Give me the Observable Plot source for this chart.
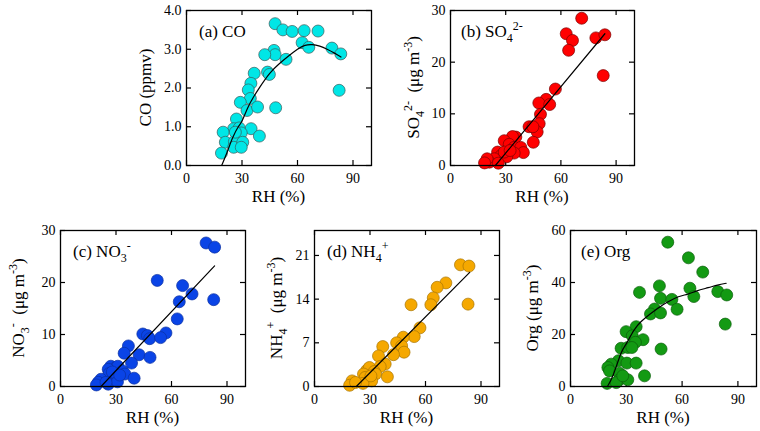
<!DOCTYPE html>
<html><head><meta charset="utf-8">
<script src="https://cdn.jsdelivr.net/npm/d3@7"></script>
<script src="https://cdn.jsdelivr.net/npm/@observablehq/plot@0.6"></script>
<style>
body{margin:0;background:#fff;}
#wrap{position:relative;width:760px;height:431px;overflow:hidden;background:#fff;}
#wrap svg{position:absolute;}
</style></head><body><div id="wrap"></div>
<script>
const xTicks = [0, 30, 60, 90];

// (a) CO
const coRH  = [47.9,52.1,57.1,63.6,71.1,62.5,66.1,78.6,83.4,47.3,47.9,42.3,53.8,43.8,44.8,36.6,34.8,33.4,34.5,29.1,32.7,38.4,48.2,82.5,27.0,34.9,25.5,28.5,29.6,39.4,19.8,21.0,25.9,25.5,30.4,29.6,18.9,26.4];
const coVal = [3.66,3.50,3.46,3.48,3.47,3.17,3.05,3.03,2.88,2.97,2.86,2.86,2.74,2.41,2.35,2.38,2.12,1.95,1.73,1.63,1.42,1.51,1.49,1.94,1.20,0.95,0.95,0.97,0.84,0.76,0.86,0.60,0.62,0.47,0.60,0.47,0.32,0.86];
const coFitRH  = [19,22,25,28,30,33,36,40,45,50,55,60,64,68,72,76,80,83.5];
const coFitVal = [0,0.35,0.72,1.0,1.15,1.48,1.75,2.05,2.38,2.62,2.82,3.0,3.1,3.12,3.08,3.0,2.9,2.8];
const coTicks = [0, 1, 2, 3, 4];

// (b) SO4
const so4RH  = [71.3,62.9,66.3,64.2,79,83.9,83,57,52,48,53.9,48.9,48.2,47.1,42.7,44.8,45,35.5,33.7,29.2,31.9,34.6,38.2,39.6,34.6,25.6,27.4,30.6,23.8,21.1,19.9,18.5,26,29.2,32.4];
const so4Val = [28.5,25.5,24.2,22.3,24.7,25.3,17.4,14.8,12.8,12.1,11.8,9.9,8.1,6.5,7.5,7.5,4.5,5.5,5.6,4.8,4.1,3.5,3.5,2.5,2.4,2.6,1.9,1.7,1.3,0.65,1.3,0.5,0.45,2.6,2.9];
const so4FitRH  = [24.4, 83.9];
const so4FitVal = [0, 25.5];
const so4Ticks = [0, 10, 20, 30];

// (c) NO3
const no3RH  = [78.7,83.3,52.3,66,71.1,82.8,64.2,63.1,44.5,47,48.2,57,54.1,36.7,34.4,42.5,48.4,38.4,27.2,29.9,31,25.8,33.5,34.8,26.3,29,30.8,39.8,21.9,20.4,19.4,25.8,30.8,24.6,28,32];
const no3Val = [27.6,26.8,20.4,19.4,17.8,16.7,16.3,13.0,10.1,9.8,9.2,10.3,9.4,7.8,6.4,6.1,5.6,4.5,3.9,3.7,3.9,3.3,3.0,2.4,2.5,2.4,1.7,1.6,1.4,0.8,0.3,0.45,0.9,0.8,2.8,2.2];
const no3FitRH  = [21.9, 83.3];
const no3FitVal = [0, 23.2];
const no3Ticks = [0, 10, 20, 30];

// (d) NH4
const nh4RH  = [78.9,83.5,71,66.3,64.2,62.9,52.2,83,57,53.9,48,44.4,47.1,48.4,36.9,34.6,42.7,38.2,35.5,28.3,29.7,32.3,26.5,33,27.4,39.4,30.9,26.2,20.3,19,22.2,30.5];
const nh4Val = [19.5,19.3,16.6,15.9,14.2,13.1,13.1,13.2,9.4,8.0,7.9,7.0,6.5,5.5,6.4,4.9,5.1,3.6,3.2,2.6,3.05,2.4,2.0,2.0,1.45,1.55,0.9,0.5,0.9,0.2,0.65,1.7];
const nh4FitRH  = [22.6, 83.9];
const nh4FitVal = [0, 18.3];
const nh4Ticks = [0, 7, 14, 21];

// (e) Org
const orgRH  = [52.3,63.4,71.1,47.8,64.2,37.1,79.2,84,48.4,54.5,66.3,45.2,57.3,43,48.4,83.2,35.3,29.9,33.2,39,34.9,27.2,30.8,33,48.7,25.8,30.3,35.3,21.9,20.1,21,26.3,39.8,26.3,30.8,19.7,24.6,28.1];
const orgVal = [55.5,49.5,44,38.7,37.8,36.2,36.5,35.2,33.9,33.5,34.6,29.8,29.7,27.9,28.3,24,23,21.1,19.5,18,17,14.7,15,15,14.4,9.9,9,9,8.6,7.3,6,5.1,4.1,2.6,2.6,1.2,1.5,4.1];
const orgFitRH  = [20,23,27,30,34,38,43,48,52,58,63,68,74,79,83.7];
const orgFitVal = [0.2,4.5,12.5,16.5,21.5,25,28,30.6,32.4,34.5,35.5,36.8,38,39,39.7];
const orgTicks = [0, 20, 40, 60];

const FONT = '"Liberation Serif","Times New Roman",serif';

const panels = [
  {L:186, T:10,  W:185, H:155, rh:coRH,  val:coVal,  fx:coFitRH,  fy:coFitVal,  dom:[0,4],  ticks:coTicks,  fmt:d3.format(".1f"),
   fill:"#00e6e6", stroke:"#3a5a5a", tx:13,
   title:[["(a) CO"]], ylab:[["CO (ppmv)"]], yoff:35},
  {L:450, T:10,  W:184, H:155, rh:so4RH, val:so4Val, fx:so4FitRH, fy:so4FitVal, dom:[0,30], ticks:so4Ticks, fmt:d3.format("d"),
   fill:"#ff0000", stroke:"#7a0000", tx:11,
   title:[["(b) SO"],["4","sub"],["2-","sup"]], ylab:[["SO"],["4","sub"],["2-","sup"],["  (\u03bcg m"],["-3","sup"],[")"]], yoff:31},
  {L:60,  T:230, W:185, H:156, rh:no3RH, val:no3Val, fx:no3FitRH, fy:no3FitVal, dom:[0,30], ticks:no3Ticks, fmt:d3.format("d"),
   fill:"#0a44e6", stroke:"#0a2fa0", tx:13,
   title:[["(c) NO"],["3","sub"],["-","sup"]], ylab:[["NO"],["3","sub"],["-","sup"],["  (\u03bcg m"],["-3","sup"],[")"]], yoff:36},
  {L:314, T:230, W:185, H:156, rh:nh4RH, val:nh4Val, fx:nh4FitRH, fy:nh4FitVal, dom:[0,25], ticks:nh4Ticks, fmt:d3.format("d"),
   fill:"#f5a800", stroke:"#a87400", tx:13,
   title:[["(d) NH"],["4","sub"],["+","sup"]], ylab:[["NH"],["4","sub"],["+","sup"],["  (\u03bcg m"],["-3","sup"],[")"]], yoff:32},
  {L:570, T:230, W:186, H:156, rh:orgRH, val:orgVal, fx:orgFitRH, fy:orgFitVal, dom:[0,60], ticks:orgTicks, fmt:d3.format("d"),
   fill:"#139a13", stroke:"#0b5e0b", tx:11,
   title:[["(e) Org"]], ylab:[["Org (\u03bcg m"],["-3","sup"],[")"]], yoff:32}
];

function rich(svg, parts, x, y, size, anchor, rotate) {
  const t = d3.select(svg).append("text")
    .attr("font-family", FONT).attr("font-size", size)
    .attr("text-anchor", anchor).attr("fill", "black")
    .attr("transform", `translate(${x},${y}) rotate(${rotate})`)
    .attr("xml:space", "preserve");
  let cur = 0;
  const small = Math.round(size * 0.7);
  for (const [s, kind] of parts) {
    const target = kind === "sub" ? size * 0.3 : kind === "sup" ? -size * 0.42 : 0;
    t.append("tspan").attr("dy", target - cur)
      .attr("font-size", kind ? small : size)
      .style("white-space", "pre").text(s);
    cur = target;
  }
}

const wrap = document.getElementById("wrap");
const ML = 60, MR = 4, MT = 10, MB = 45;
for (const p of panels) {
  const svg = Plot.plot({
    width: p.W + ML + MR, height: p.H + MT + MB,
    marginLeft: ML, marginRight: MR, marginTop: MT, marginBottom: MB,
    x: {domain: [0, 100]},
    y: {domain: p.dom},
    style: {fontFamily: FONT, fontSize: "14px", color: "black", background: "transparent", overflow: "visible"},
    marks: [
      Plot.axisX({ticks: xTicks, tickSize: 0, tickPadding: 8, label: null, fontSize: 14}),
      Plot.axisY({ticks: p.ticks, tickSize: 0, tickPadding: 5, tickFormat: p.fmt, label: null, fontSize: 14}),
      Plot.tickX(xTicks, {x: d => d, insetTop: p.H - 5, stroke: "black", strokeWidth: 1.2}),
      Plot.tickX(xTicks, {x: d => d, insetBottom: p.H - 5, stroke: "black", strokeWidth: 1.2}),
      Plot.tickY(p.ticks, {y: d => d, insetRight: p.W - 5, stroke: "black", strokeWidth: 1.2}),
      Plot.tickY(p.ticks, {y: d => d, insetLeft: p.W - 5, stroke: "black", strokeWidth: 1.2}),
      Plot.dot(p.rh, {x: p.rh, y: p.val, r: 6, fill: p.fill, stroke: p.stroke, strokeWidth: 0.7, fillOpacity: 1}),
      Plot.line(p.fx, {x: p.fx, y: p.fy, curve: "natural", stroke: "black", strokeWidth: 1.2}),
      Plot.frame({stroke: "black", strokeWidth: 1.3})
    ]
  });
  svg.style.left = (p.L - ML) + "px";
  svg.style.top = (p.T - MT) + "px";
  wrap.appendChild(svg);
  // x label
  rich(svg, [["RH (%)"]], ML + p.W / 2, MT + p.H + 37, 17, "middle", 0);
  // panel title
  rich(svg, p.title, ML + p.tx, MT + 27, 17, "start", 0);
  // y label
  rich(svg, p.ylab, ML - p.yoff, MT + p.H / 2, 17, "middle", -90);
}
</script></body></html>
